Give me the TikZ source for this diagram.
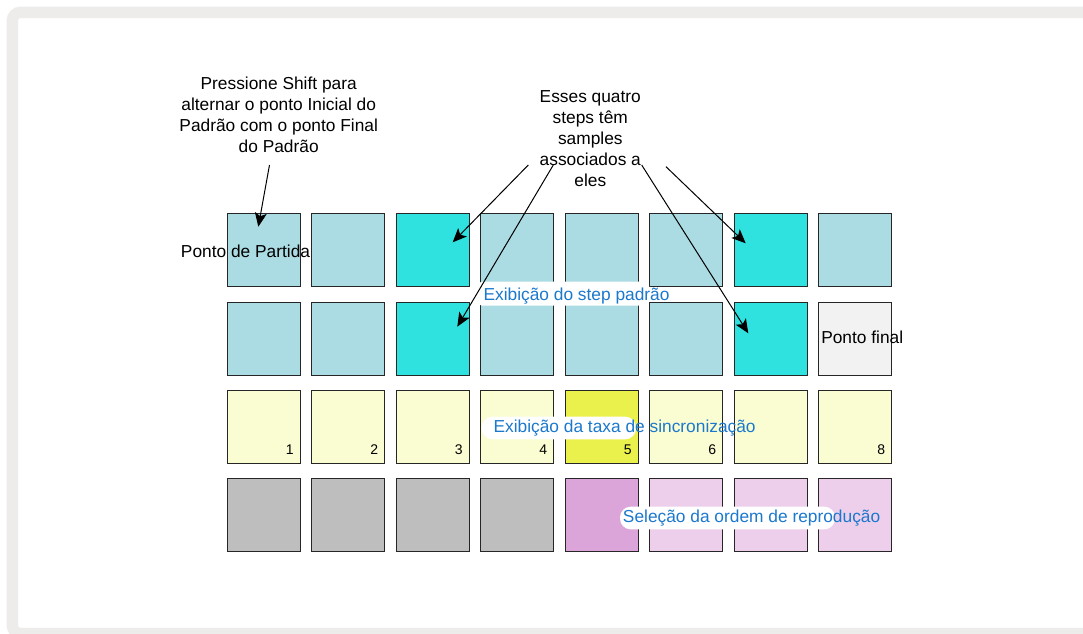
\documentclass[tikz,border=0pt]{standalone}
\usepackage{fontspec}
\setmainfont{Liberation Sans}
\usetikzlibrary{arrows.meta}

\definecolor{padblue}{RGB}{171,219,227}
\definecolor{padcyan}{RGB}{48,226,223}
\definecolor{padend}{RGB}{242,242,242}
\definecolor{padyel}{RGB}{250,253,210}
\definecolor{padsync}{RGB}{234,240,76}
\definecolor{padgray}{RGB}{190,190,190}
\definecolor{padplum}{RGB}{220,165,218}
\definecolor{padpink}{RGB}{238,207,235}
\definecolor{framegray}{RGB}{238,235,235}
\definecolor{labblue}{RGB}{27,120,204}

\begin{document}
\begin{tikzpicture}[
  x=0.75pt, y=-0.75pt,
  pad/.style={draw=black!85, line width=0.8pt, minimum width=54.8pt, minimum height=54.8pt, inner sep=0pt},
  note/.style={align=center, font=\fontsize{13}{15.75}\selectfont, inner sep=0pt},
  lab/.style={font=\fontsize{13}{15.75}\selectfont, inner sep=0pt, anchor=west},
  bluelab/.style={lab, text=labblue},
  num/.style={font=\fontsize{10.5}{12}\selectfont, inner sep=0pt},
  >={Stealth[length=10.5pt, width=9pt, inset=2.5pt]}
]
\useasboundingbox (0,0) rectangle (1083,633);
\clip (0,0) rectangle (1083,633);
% frame, open on the right
\draw[framegray, line width=8.6pt, rounded corners=6pt] (1090,12.4) -- (12.4,12.4) -- (12.4,633.5) -- (1090,633.5);

% the four rows of pads
\foreach \c/\fa/\fb/\fc/\fd in {1/padblue/padblue/padyel/padgray, 2/padblue/padblue/padyel/padgray,
    3/padcyan/padcyan/padyel/padgray, 4/padblue/padblue/padyel/padgray,
    5/padblue/padblue/padsync/padplum, 6/padblue/padblue/padyel/padpink,
    7/padcyan/padcyan/padyel/padpink, 8/padblue/padend/padyel/padpink} {
  \node[pad, fill=\fa] (pa\c) at ({263.7+(\c-1)*84.5}, 250.3) {};
  \node[pad, fill=\fb] (pb\c) at ({263.7+(\c-1)*84.5}, 338.6) {};
  \node[pad, fill=\fc] (pc\c) at ({263.7+(\c-1)*84.5}, 426.9) {};
  \node[pad, fill=\fd] (pd\c) at ({263.7+(\c-1)*84.5}, 515.2) {};
}
\foreach \c in {1,2,3,4,5,6,8}
  \node[num] (n\c) at ([shift={(-11,-14)}]pc\c.south east) {\c};

% label backgrounds
\fill[white, rounded corners=3pt] (478,281.7) rectangle (649,305.7);
\fill[white, rounded corners=8pt] (481.7,416.7) rectangle (636,439.3);
\fill[white, rounded corners=8pt] (620,506.7) rectangle (835,529.3);

\node[bluelab] (stepLab) at (483.3,295.7) {Exibição do step padrão};
\node[bluelab] (syncLab) at (493.3,428.3) {Exibição da taxa de sincronização};
\node[bluelab] (orderLab) at (622.7,518.3) {Seleção da ordem de reprodução};
\node[lab] (startLab) at (180.7,251.5) {Ponto de Partida};
\node[lab] (endLab) at (821,337.5) {Ponto final};

\node[note] (shiftNote) at (278.7,115) {Pressione Shift para\\ alternar o ponto Inicial do\\ Padrão com o ponto Final\\ do Padrão};
\node[note] (sampleNote) at (590.3,139) {Esses quatro\\ steps têm\\ samples\\ associados a\\ eles};

\coordinate (shiftTail) at (269.5,165);
\coordinate (tailA) at (528.3,165);
\coordinate (tailB) at (553.3,165);
\coordinate (tailC) at (641.7,165);
\coordinate (tailD) at (666,166.7);

\draw[->, line width=0.75pt] (shiftTail) -- ([shift={(-5.4,-23.6)}]pa1.center);
\draw[->, line width=0.75pt] (tailA) -- ([shift={(20,-8)}]pa3.center);
\draw[->, line width=0.75pt] (tailB) -- ([shift={(24.6,-11.9)}]pb3.center);
\draw[->, line width=0.75pt] (tailC) -- ([shift={(-22.4,-5.3)}]pb7.center);
\draw[->, line width=0.75pt] (tailD) -- ([shift={(-25,-7)}]pa7.center);
\end{tikzpicture}
\end{document}
